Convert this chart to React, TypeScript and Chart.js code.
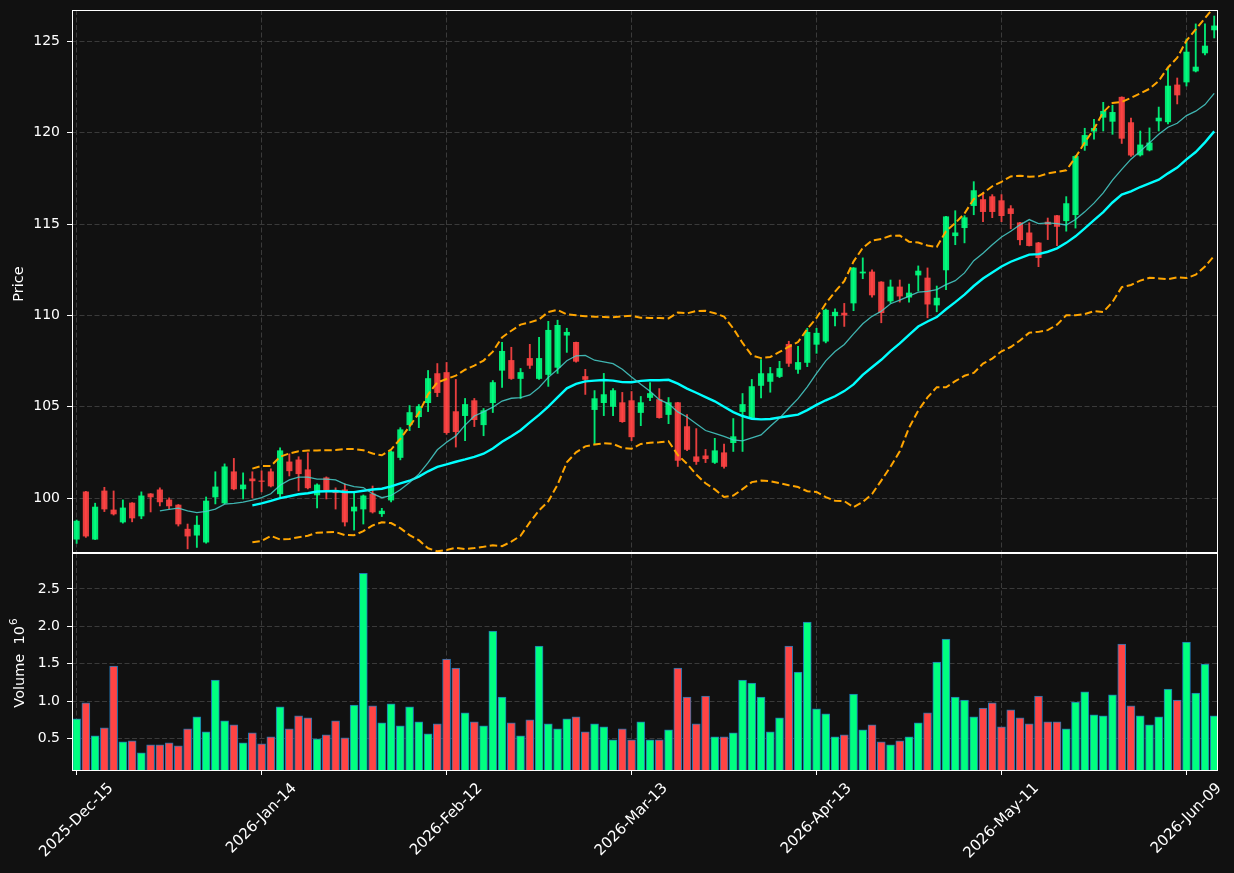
import React, { useEffect, useRef } from "react";
import { Chart, registerables } from "chart.js";

Chart.register(...registerables);

// ---- data (one entry per trading day, index 0 = 2025-12-15) ----
const OPEN = [
  97.76, 100.35, 97.76, 100.4, 99.36, 98.7, 99.74, 99.03, 100.24, 100.46,
  99.91, 99.63, 98.31, 97.98, 97.6, 100.07, 99.74, 101.45, 100.51, 101.06,
  100.95, 101.45, 100.24, 101.99, 102.1, 101.56, 100.18, 101.12, 100.35, 100.46,
  99.3, 99.41, 100.24, 99.15, 99.9, 102.23, 104.02, 104.46, 105.23, 106.82,
  106.88, 104.74, 104.52, 105.34, 104.02, 105.23, 107.0, 107.54, 106.55, 107.65,
  106.55, 106.77, 107.16, 108.92, 108.53, 106.66, 104.85, 105.23, 105.02, 105.23,
  105.34, 104.69, 105.51, 105.4, 104.58, 105.23, 103.92, 102.27, 102.32, 101.96,
  102.49, 103.04, 104.74, 104.41, 106.17, 106.39, 106.66, 108.42, 107.05, 107.43,
  108.42, 108.59, 109.98, 110.13, 110.68, 112.32, 112.38, 111.83, 110.79, 111.56,
  111.0, 112.21, 112.05, 110.57, 112.49, 114.36, 114.8, 116.01, 116.34, 116.5,
  116.28, 115.84, 115.07, 114.52, 113.97, 115.11, 115.46, 115.18, 115.51, 119.3,
  120.08, 120.84, 120.62, 121.94, 120.55, 118.78, 119.05, 120.64, 120.59, 122.61,
  122.77, 123.37, 124.36, 125.62,
];
const HIGH = [
  98.81, 100.38, 99.73, 100.6, 100.4, 99.91, 99.76, 100.35, 100.26, 100.57,
  100.02, 99.66, 98.59, 99.03, 100.07, 101.45, 101.88, 102.18, 101.39, 101.45,
  101.5, 101.61, 102.76, 102.43, 102.27, 102.49, 100.79, 101.17, 100.57, 100.79,
  100.35, 100.18, 100.67, 99.45, 102.6, 103.86, 105.07, 105.13, 106.99, 107.37,
  107.43, 106.5, 105.46, 105.46, 104.91, 106.44, 108.53, 108.26, 107.1, 108.42,
  108.8, 109.68, 109.74, 109.3, 108.55, 107.05, 105.89, 106.83, 106.0, 105.79,
  105.84, 105.57, 106.33, 106.0, 105.51, 105.25, 104.58, 103.81, 102.67, 103.28,
  102.97, 104.36, 105.73, 106.5, 107.59, 107.16, 107.49, 108.59, 108.31, 109.3,
  109.3, 110.35, 110.36, 110.66, 112.62, 113.15, 112.49, 111.85, 111.94, 111.94,
  111.72, 112.71, 112.6, 111.61, 115.42, 115.73, 115.46, 117.32, 116.72, 116.61,
  116.61, 116.01, 115.1, 115.07, 114.0, 115.33, 115.48, 116.5, 118.75, 120.24,
  120.73, 121.66, 121.5, 121.96, 120.8, 120.09, 120.26, 121.4, 123.54, 122.99,
  125.13, 125.95, 125.95, 126.38,
];
const LOW = [
  97.53, 97.86, 97.74, 99.27, 99.08, 98.64, 98.71, 98.88, 99.25, 99.58,
  99.41, 98.48, 97.23, 97.31, 97.54, 99.69, 99.7, 100.46, 99.96, 100.02,
  100.35, 100.62, 100.09, 101.22, 100.4, 100.51, 99.47, 99.96, 99.41, 98.48,
  98.26, 98.59, 99.19, 99.0, 99.8, 102.1, 103.7, 103.86, 104.74, 105.56,
  103.5, 102.8, 103.15, 103.92, 103.42, 104.69, 106.06, 106.5, 105.46, 107.1,
  106.5, 106.12, 106.83, 107.98, 107.45, 105.68, 102.98, 104.52, 104.52, 104.15,
  103.15, 103.97, 105.34, 104.38, 104.08, 101.74, 102.6, 101.85, 101.95, 101.9,
  101.65, 102.56, 102.56, 104.35, 105.49, 105.8, 106.6, 107.21, 106.83, 107.2,
  107.93, 108.5, 109.43, 109.4, 110.26, 112.01, 111.0, 109.6, 110.68, 110.73,
  110.73, 111.34, 109.87, 110.2, 111.41, 113.87, 113.97, 115.51, 115.13, 115.35,
  115.13, 114.74, 113.86, 113.8, 112.67, 114.15, 113.82, 114.61, 114.78, 119.03,
  119.65, 120.09, 119.91, 119.41, 118.7, 118.72, 119.0, 120.09, 120.48, 121.57,
  122.55, 123.32, 124.25, 125.18,
];
const CLOSE = [
  98.75, 97.93, 99.52, 99.41, 99.14, 99.47, 98.92, 100.13, 100.07, 99.8,
  99.58, 98.59, 97.93, 98.53, 99.85, 100.62, 101.72, 100.51, 100.73, 100.95,
  100.92, 100.67, 102.6, 101.5, 101.34, 100.57, 100.73, 100.46, 100.3, 98.7,
  99.52, 100.13, 99.25, 99.3, 102.54, 103.75, 104.69, 105.02, 106.55, 105.78,
  103.59, 103.64, 105.13, 104.3, 104.79, 106.33, 108.04, 106.55, 106.88, 107.27,
  107.65, 109.19, 109.46, 109.08, 107.49, 106.5, 105.45, 105.67, 105.89, 104.19,
  103.36, 105.23, 105.73, 104.41, 105.23, 102.07, 102.67, 102.01, 102.16, 102.6,
  101.74, 103.37, 105.13, 106.11, 106.82, 106.82, 107.1, 107.38, 107.43, 109.08,
  109.03, 110.29, 110.18, 110.02, 112.6, 112.38, 111.12, 110.15, 111.56, 111.06,
  111.23, 112.43, 110.62, 110.95, 115.4, 114.52, 115.35, 116.83, 115.68, 115.68,
  115.46, 115.57, 114.14, 113.82, 113.16, 114.98, 114.87, 116.12, 118.7, 119.85,
  120.24, 121.17, 121.11, 119.69, 118.77, 119.33, 119.44, 120.8, 122.55, 122.06,
  124.41, 123.59, 124.74, 125.84,
];
// volume in millions
const VOLUME = [
  0.763, 0.976, 0.536, 0.642, 1.469, 0.456, 0.469, 0.309, 0.416, 0.416,
  0.443, 0.403, 0.629, 0.789, 0.589, 1.283, 0.736, 0.683, 0.443, 0.576,
  0.429, 0.523, 0.923, 0.629, 0.803, 0.776, 0.496, 0.549, 0.736, 0.509,
  0.949, 2.709, 0.936, 0.709, 0.963, 0.669, 0.923, 0.723, 0.563, 0.696,
  1.563, 1.443, 0.843, 0.723, 0.669, 1.936, 1.056, 0.709, 0.536, 0.749,
  1.736, 0.696, 0.629, 0.763, 0.789, 0.589, 0.696, 0.656, 0.483, 0.629,
  0.483, 0.723, 0.483, 0.483, 0.616, 1.443, 1.056, 0.696, 1.069, 0.523,
  0.523, 0.576, 1.283, 1.243, 1.056, 0.589, 0.776, 1.736, 1.389, 2.056,
  0.896, 0.829, 0.523, 0.549, 1.096, 0.616, 0.683, 0.456, 0.416, 0.469,
  0.523, 0.709, 0.843, 1.523, 1.829, 1.056, 1.016, 0.789, 0.909, 0.976,
  0.656, 0.883, 0.776, 0.696, 1.069, 0.723, 0.723, 0.629, 0.989, 1.123,
  0.816, 0.803, 1.083, 1.763, 0.936, 0.803, 0.683, 0.789, 1.163, 1.016,
  1.789, 1.109, 1.496, 0.803,
];
const TICK_INDEX = [0, 20, 40, 60, 80, 100, 120];
const TICK_LABELS = [
  "2025-Dec-15",
  "2026-Jan-14",
  "2026-Feb-12",
  "2026-Mar-13",
  "2026-Apr-13",
  "2026-May-11",
  "2026-Jun-09",
];
const PRICE_TICKS = [100, 105, 110, 115, 120, 125];
const VOLUME_TICKS = [0.5, 1.0, 1.5, 2.0, 2.5];

// ---- style ----
const UP = "#00ff80";
const DOWN = "#ff4444";
const UP_C = "rgba(0,255,128,0.9)";
const DOWN_C = "rgba(255,68,68,0.9)";
const BG = "#111111";
const GRID = "#3a3a3a";
const FG = "#ffffff";
const FONT = '"DejaVu Sans", sans-serif';
const W = 1234;
const H = 873;
const PRICE_H = 553;
const VOL_CANVAS_TOP = 552;
const VOL_H = H - VOL_CANVAS_TOP;

const N = CLOSE.length;
const isUp = (i: number) => CLOSE[i] >= OPEN[i];

function rollingMean(arr: number[], n: number): (number | null)[] {
  return arr.map((_, i) => {
    if (i < n - 1) return null;
    let s = 0;
    for (let k = i - n + 1; k <= i; k++) s += arr[k];
    return s / n;
  });
}
function rollingStd(arr: number[], n: number): (number | null)[] {
  const m = rollingMean(arr, n);
  return arr.map((_, i) => {
    if (i < n - 1) return null;
    let s = 0;
    for (let k = i - n + 1; k <= i; k++) s += (arr[k] - (m[i] as number)) ** 2;
    return Math.sqrt(s / (n - 1));
  });
}

const MA10 = rollingMean(CLOSE, 10);
const MA20 = rollingMean(CLOSE, 20);
const SD20 = rollingStd(CLOSE, 20);
const BB_UP = MA20.map((m, i) => (m == null ? null : m + 2 * (SD20[i] as number)));
const BB_LO = MA20.map((m, i) => (m == null ? null : m - 2 * (SD20[i] as number)));

const toXY = (arr: (number | null)[]) =>
  arr.map((v, i) => (v == null ? null : { x: i, y: v })).filter(Boolean) as { x: number; y: number }[];

const X_MIN = -0.5;
const X_MAX = 123.3;

const framePlugin = {
  id: "frame",
  afterDraw(chart: any) {
    const { left, top, right, bottom } = chart.chartArea;
    const ctx = chart.ctx;
    ctx.save();
    ctx.strokeStyle = FG;
    ctx.lineWidth = 1;
    ctx.strokeRect(left + 0.5, top + 0.5, right - left, bottom - top);
    ctx.restore();
  },
};

function xScale(showTicks: boolean, height: number) {
  return {
    type: "linear",
    min: X_MIN,
    max: X_MAX,
    offset: false,
    afterBuildTicks: (s: any) => {
      s.ticks = TICK_INDEX.map((v) => ({ value: v }));
    },
    afterFit: (s: any) => {
      s.height = height;
      s.paddingLeft = 0;
      s.paddingRight = 0;
    },
    ticks: { display: false },
    grid: {
      offset: false,
      color: GRID,
      lineWidth: 1,
      drawTicks: showTicks,
      tickLength: 5,
      tickColor: FG,
      tickWidth: 1,
      tickBorderDash: [],
    },
    border: { display: false, dash: [5, 2.5] },
  };
}

function yScale(min: number, max: number, ticks: number[], fmt: (v: number) => string) {
  return {
    type: "linear",
    position: "left",
    min,
    max,
    afterBuildTicks: (s: any) => {
      s.ticks = ticks.map((v) => ({ value: v }));
    },
    afterFit: (s: any) => {
      s.width = 72;
      s.paddingTop = 0;
      s.paddingBottom = 0;
    },
    ticks: {
      color: FG,
      font: { family: FONT, size: 14 },
      padding: 7,
      callback: (v: any) => fmt(Number(v)),
    },
    grid: {
      color: GRID,
      lineWidth: 1,
      drawTicks: true,
      tickLength: 5,
      tickColor: FG,
      tickWidth: 1,
      tickBorderDash: [],
    },
    border: { display: false, dash: [5, 2.5] },
  };
}

const priceTitlePlugin = {
  id: "priceTitle",
  afterDraw(chart: any) {
    const { top, bottom } = chart.chartArea;
    const ctx = chart.ctx;
    ctx.save();
    ctx.translate(19, (top + bottom) / 2 + 3);
    ctx.rotate(-Math.PI / 2);
    ctx.fillStyle = FG;
    ctx.font = `14.5px ${FONT}`;
    ctx.textAlign = "center";
    ctx.textBaseline = "middle";
    ctx.fillText("Price", 0, 0);
    ctx.restore();
  },
};

const volumeTextPlugin = {
  id: "volumeText",
  afterDraw(chart: any) {
    const { top, bottom } = chart.chartArea;
    const ctx = chart.ctx;
    ctx.save();
    // y label with exponent
    ctx.translate(20, (top + bottom) / 2 + 2);
    ctx.rotate(-Math.PI / 2);
    ctx.fillStyle = FG;
    ctx.textBaseline = "middle";
    ctx.textAlign = "left";
    ctx.font = `14.5px ${FONT}`;
    const main = "Volume  10";
    const wMain = ctx.measureText(main).width;
    ctx.font = `10.5px ${FONT}`;
    const wSup = ctx.measureText("6").width;
    const x0 = -(wMain + wSup) / 2;
    ctx.font = `14.5px ${FONT}`;
    ctx.fillText(main, x0, 0);
    ctx.font = `10.5px ${FONT}`;
    ctx.fillText("6", x0 + wMain + 1, -6);
    ctx.restore();

    // rotated date labels, centred under their ticks
    const xs = chart.scales.x;
    ctx.save();
    ctx.fillStyle = FG;
    ctx.font = `15px ${FONT}`;
    ctx.textAlign = "center";
    ctx.textBaseline = "middle";
    TICK_INDEX.forEach((v, k) => {
      const label = TICK_LABELS[k];
      const px = xs.getPixelForValue(v);
      const w = ctx.measureText(label).width;
      const hb = (w + 17) * Math.SQRT1_2;
      const cy = bottom + 10 + hb / 2;
      ctx.save();
      ctx.translate(px, cy);
      ctx.rotate(-Math.PI / 4);
      ctx.fillText(label, 0, 0);
      ctx.restore();
    });
    ctx.restore();
  },
};

export default function App() {
  const priceRef = useRef<HTMLCanvasElement>(null);
  const volRef = useRef<HTMLCanvasElement>(null);

  useEffect(() => {
    const idx = Array.from({ length: N }, (_, i) => i);
    const candleColors = idx.map((i) => (isUp(i) ? UP_C : DOWN_C));

    const price = new Chart(priceRef.current as HTMLCanvasElement, {
      type: "bar",
      data: {
        datasets: [
          {
            type: "line",
            label: "MA10",
            data: toXY(MA10),
            borderColor: "rgba(72,209,204,0.85)",
            borderWidth: 1.3,
            pointRadius: 0,
            tension: 0,
            order: 0,
            clip: 0,
          },
          {
            type: "line",
            label: "MA20",
            data: toXY(MA20),
            borderColor: "#00ffff",
            borderWidth: 2.4,
            pointRadius: 0,
            tension: 0,
            order: 0,
            clip: 0,
          },
          {
            type: "line",
            label: "BB upper",
            data: toXY(BB_UP),
            borderColor: "#ffa500",
            borderWidth: 2,
            borderDash: [7.5, 3.5],
            pointRadius: 0,
            tension: 0,
            order: 0,
            clip: 0,
          },
          {
            type: "line",
            label: "BB lower",
            data: toXY(BB_LO),
            borderColor: "#ffa500",
            borderWidth: 2,
            borderDash: [7.5, 3.5],
            pointRadius: 0,
            tension: 0,
            order: 0,
            clip: 0,
          },
          {
            type: "bar",
            label: "body",
            data: idx.map((i) => ({ x: i, y: [OPEN[i], CLOSE[i]] })),
            backgroundColor: candleColors,
            borderWidth: 0,
            barThickness: 5.5,
            grouped: false,
            order: 1,
            clip: 0,
          },
          {
            type: "bar",
            label: "wick",
            data: idx.map((i) => ({ x: i, y: [LOW[i], HIGH[i]] })),
            backgroundColor: candleColors,
            borderWidth: 0,
            barThickness: 1.2,
            grouped: false,
            order: 2,
            clip: 0,
          },
        ],
      } as any,
      options: {
        responsive: false,
        animation: false,
        events: [],
        layout: { padding: { left: 0, right: 17, top: 10, bottom: 1 } },
        plugins: { legend: { display: false }, tooltip: { enabled: false } },
        scales: {
          x: xScale(false, 0),
          y: yScale(97.06, 126.71, PRICE_TICKS, (v) => String(v)),
        } as any,
      },
      plugins: [framePlugin, priceTitlePlugin],
    });

    const volume = new Chart(volRef.current as HTMLCanvasElement, {
      type: "bar",
      data: {
        datasets: [
          {
            label: "Volume",
            data: idx.map((i) => ({ x: i, y: VOLUME[i] })),
            backgroundColor: idx.map((i) => (isUp(i) ? UP : DOWN)),
            borderColor: "#1f77b4",
            borderWidth: 1,
            borderSkipped: false,
            barThickness: 8,
            grouped: false,
            clip: 0,
          },
        ],
      } as any,
      options: {
        responsive: false,
        animation: false,
        events: [],
        layout: { padding: { left: 0, right: 17, top: 1, bottom: 0 } },
        plugins: { legend: { display: false }, tooltip: { enabled: false } },
        scales: {
          x: xScale(true, 103),
          y: yScale(0.08, 2.98, VOLUME_TICKS, (v) => v.toFixed(1)),
        } as any,
      },
      plugins: [framePlugin, volumeTextPlugin],
    });

    return () => {
      price.destroy();
      volume.destroy();
    };
  }, []);

  return (
    <div
      style={{
        position: "fixed",
        left: 0,
        top: 0,
        width: W,
        height: H,
        background: BG,
        overflow: "hidden",
      }}
    >
      <canvas
        ref={priceRef}
        width={W}
        height={PRICE_H}
        style={{ position: "absolute", left: 0, top: 0, width: W, height: PRICE_H }}
      />
      <canvas
        ref={volRef}
        width={W}
        height={VOL_H}
        style={{ position: "absolute", left: 0, top: VOL_CANVAS_TOP, width: W, height: VOL_H }}
      />
    </div>
  );
}
